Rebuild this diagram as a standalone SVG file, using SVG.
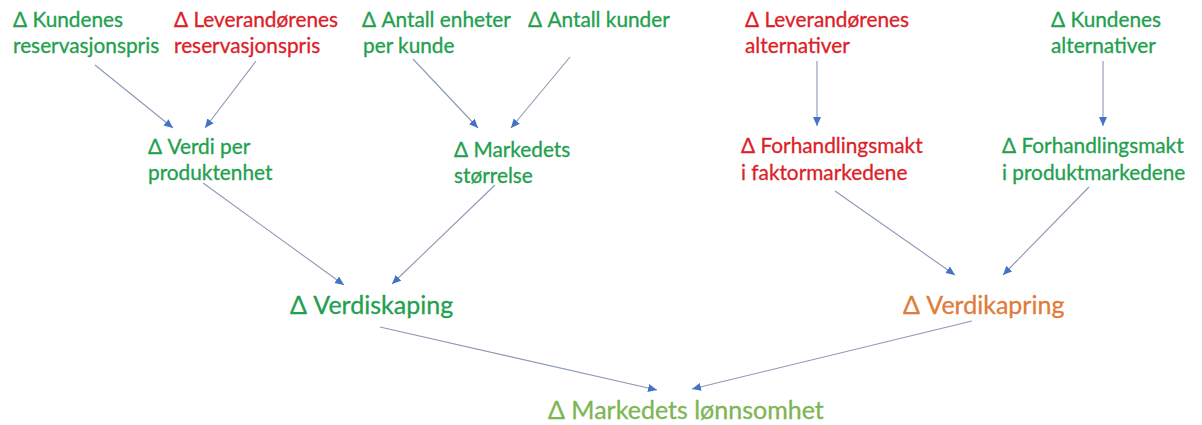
<svg xmlns="http://www.w3.org/2000/svg" width="1202" height="425" viewBox="0 0 1202 425">
<style>
text{font-family:Lato,"Open Sans","Liberation Sans",sans-serif;stroke-width:0.3px;}
.s{font-size:20.8px;}
.l{font-size:25px;}
.g{fill:#22A04E;stroke:#22A04E;}
.r{fill:#DB2128;stroke:#DB2128;}
.o{fill:#E07B39;stroke:#E07B39;}
.lg{fill:#7DB554;stroke:#7DB554;}
.c line{stroke:#8C98B4;stroke-width:1.1;marker-end:url(#ah);}
</style>
<defs>
<marker id="ah" markerUnits="userSpaceOnUse" markerWidth="10" markerHeight="10" viewBox="0 0 10 10" refX="9" refY="5" orient="auto">
<path d="M0,1 L9,5 L0,9 Z" fill="#4472C4"/>
</marker>
</defs>
<rect width="1202" height="425" fill="#ffffff"/>
<g class="c" id="connectors">
<line x1="95" y1="65" x2="173" y2="128"/>
<line x1="256" y1="61" x2="205" y2="128"/>
<line x1="413" y1="59" x2="478" y2="128"/>
<line x1="570" y1="57" x2="511" y2="128"/>
<line x1="817" y1="61" x2="817" y2="126"/>
<line x1="1103" y1="61" x2="1103" y2="126"/>
<line x1="203" y1="183" x2="344" y2="285"/>
<line x1="495" y1="185" x2="392" y2="284"/>
<line x1="835" y1="191" x2="955" y2="275"/>
<line x1="1089" y1="187" x2="1003" y2="275"/>
<line x1="380" y1="327" x2="657" y2="390"/>
<line x1="972" y1="321" x2="692" y2="389"/>
</g>
<g id="kundenes-reservasjonspris"><text class="s g" x="13" y="27">Δ Kundenes</text><text class="s g" x="13" y="53">reservasjonspris</text></g>
<g id="leverandorenes-reservasjonspris"><text class="s r" x="174" y="27">Δ Leverandørenes</text><text class="s r" x="174" y="53">reservasjonspris</text></g>
<g id="antall-enheter"><text class="s g" x="362" y="27">Δ Antall enheter</text><text class="s g" x="363" y="53">per kunde</text></g>
<g id="antall-kunder"><text class="s g" x="528" y="27">Δ Antall kunder</text></g>
<g id="leverandorenes-alternativer"><text class="s r" x="745" y="27">Δ Leverandørenes</text><text class="s r" x="745" y="53">alternativer</text></g>
<g id="kundenes-alternativer"><text class="s g" x="1051" y="27">Δ Kundenes</text><text class="s g" x="1051" y="53">alternativer</text></g>
<g id="verdi-per-produktenhet"><text class="s g" x="148" y="154">Δ Verdi per</text><text class="s g" x="148" y="180">produktenhet</text></g>
<g id="markedets-storrelse"><text class="s g" x="454" y="157">Δ Markedets</text><text class="s g" x="454" y="183">størrelse</text></g>
<g id="forhandlingsmakt-faktor"><text class="s r" x="741" y="153">Δ Forhandlingsmakt</text><text class="s r" x="741" y="180">i faktormarkedene</text></g>
<g id="forhandlingsmakt-produkt"><text class="s g" x="1002" y="153">Δ Forhandlingsmakt</text><text class="s g" x="1002" y="180">i produktmarkedene</text></g>
<g id="verdiskaping"><text class="l g" x="290" y="314">Δ Verdiskaping</text></g>
<g id="verdikapring"><text class="l o" x="903" y="314">Δ Verdikapring</text></g>
<g id="markedets-lonnsomhet"><text class="l lg" x="548" y="419">Δ Markedets lønnsomhet</text></g>
</svg>
